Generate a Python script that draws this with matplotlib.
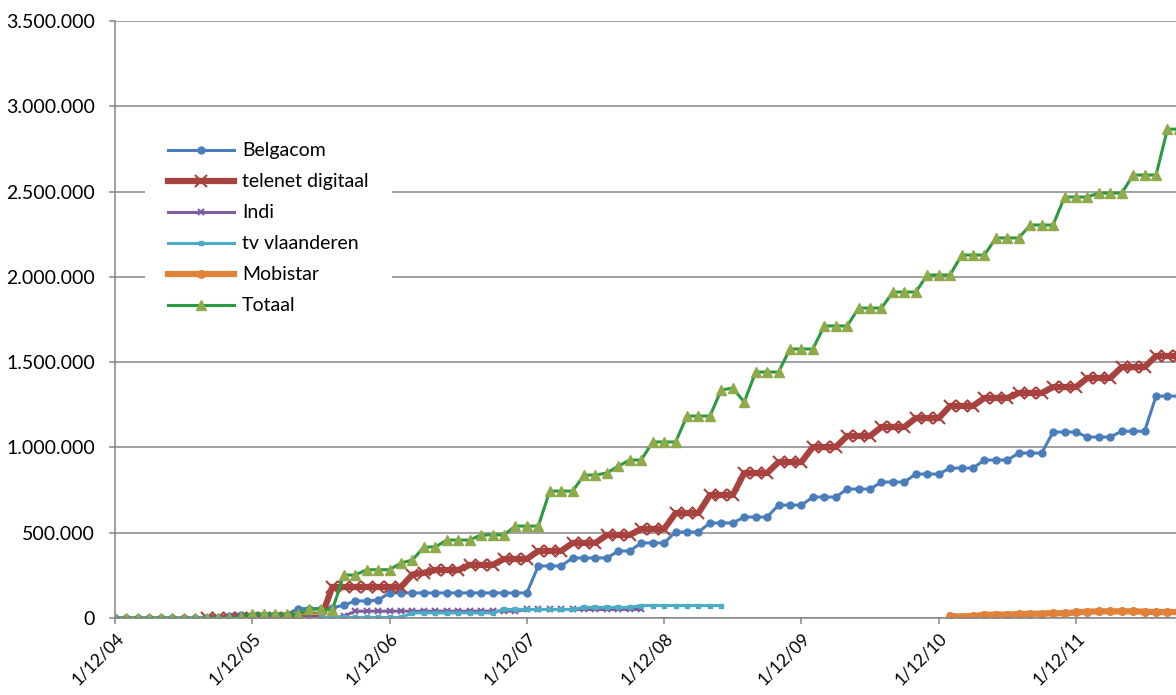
import numpy as np
import matplotlib
matplotlib.use('Agg')
from matplotlib import pyplot as plt
from matplotlib.ticker import FuncFormatter
from matplotlib.transforms import ScaledTranslation

plt.rcParams['font.family'] = ['Lato', 'DejaVu Sans']

nan = np.nan

# monthly values (x 1000), first month = dec 2004
belgacom = [0, 0, 0, 0, 0, 0, 0, 0, 0, 0,
            10, 20, 15, 15, 15, 20, 55, 55, 55, 60,
            75, 100, 100, 105, 147, 147, 147, 147, 147, 147,
            147, 147, 147, 147, 147, 147, 147, 305, 305, 305,
            352, 352, 352, 352, 393, 393, 440, 440, 440, 504,
            504, 504, 557, 557, 557, 592, 592, 592, 662, 662,
            662, 709, 709, 709, 756, 756, 756, 797, 797, 797,
            844, 844, 844, 879, 879, 879, 926, 926, 926, 967,
            967, 967, 1090, 1090, 1090, 1061, 1061, 1061, 1095, 1095,
            1095, 1301, 1301, 1301]

telenet = [nan, nan, nan, nan, nan, nan, nan, nan, 0, 0,
           0, 0, 0, 0, 0, 0, 0, 0, 0, 182,
           182, 182, 182, 182, 182, 182, 255, 265, 281, 281,
           281, 311, 311, 311, 346, 346, 346, 393, 393, 393,
           440, 440, 440, 487, 487, 487, 522, 522, 522, 615,
           615, 615, 721, 721, 721, 850, 850, 850, 914, 914,
           914, 1002, 1002, 1002, 1067, 1067, 1067, 1120, 1120, 1120,
           1172, 1172, 1172, 1243, 1243, 1243, 1290, 1290, 1290, 1319,
           1319, 1319, 1354, 1354, 1354, 1407, 1407, 1407, 1471, 1471,
           1471, 1536, 1536, 1536]

indi = [nan, nan, nan, nan, nan, nan, nan, nan, 0, 0,
        0, 0, 0, 0, 0, 0, 0, 0, 0, 0,
        10, 40, 40, 40, 40, 40, 40, 40, 40, 40,
        40, 40, 40, 40, 40, 40, 50, 50, 50, 50,
        50, 50, 50, 50, 50, 50, 50, nan, nan, nan,
        nan, nan, nan, nan, nan, nan, nan, nan, nan, nan,
        nan, nan, nan, nan, nan, nan, nan, nan, nan, nan,
        nan, nan, nan, nan, nan, nan, nan, nan, nan, nan,
        nan, nan, nan, nan, nan, nan, nan, nan, nan, nan,
        nan, nan, nan, nan]

tv_vlaanderen = [nan, nan, nan, nan, nan, nan, nan, nan, nan, nan,
                 nan, nan, nan, nan, nan, nan, nan, nan, 3, 3,
                 3, 3, 3, 3, 3, 3, 30, 30, 30, 30,
                 30, 30, 30, 30, 50, 50, 50, 50, 50, 50,
                 50, 62, 62, 62, 62, 62, 73, 73, 73, 73,
                 73, 73, 73, 73, nan, nan, nan, nan, nan, nan,
                 nan, nan, nan, nan, nan, nan, nan, nan, nan, nan,
                 nan, nan, nan, nan, nan, nan, nan, nan, nan, nan,
                 nan, nan, nan, nan, nan, nan, nan, nan, nan, nan,
                 nan, nan, nan, nan]

mobistar = [nan, nan, nan, nan, nan, nan, nan, nan, nan, nan,
            nan, nan, nan, nan, nan, nan, nan, nan, nan, nan,
            nan, nan, nan, nan, nan, nan, nan, nan, nan, nan,
            nan, nan, nan, nan, nan, nan, nan, nan, nan, nan,
            nan, nan, nan, nan, nan, nan, nan, nan, nan, nan,
            nan, nan, nan, nan, nan, nan, nan, nan, nan, nan,
            nan, nan, nan, nan, nan, nan, nan, nan, nan, nan,
            nan, nan, nan, 12, 8, 12, 18, 20, 20, 23,
            25, 25, 29, 27, 33, 37, 39, 39, 39, 39,
            37, 35, 35, 35]

totaal = [0, 0, 0, 0, 0, 0, 0, 0, 0, 0,
          0, 6, 23, 23, 23, 23, 23, 52, 52, 47,
          252, 252, 283, 283, 283, 322, 340, 416, 416, 457,
          457, 457, 487, 487, 487, 539, 539, 539, 744, 744,
          744, 838, 838, 850, 891, 926, 926, 1032, 1032, 1032,
          1184, 1184, 1184, 1337, 1348, 1266, 1442, 1442, 1442, 1577,
          1577, 1577, 1712, 1712, 1712, 1817, 1817, 1817, 1911, 1911,
          1911, 2011, 2011, 2011, 2128, 2128, 2128, 2228, 2228, 2228,
          2304, 2304, 2304, 2468, 2468, 2468, 2491, 2491, 2491, 2597,
          2597, 2597, 2866, 2866]

tick_labels = ['1/12/04', '1/12/05', '1/12/06', '1/12/07',
               '1/12/08', '1/12/09', '1/12/10', '1/12/11']

months = np.arange(len(totaal))

fig = plt.figure(figsize=(11.76, 6.95), dpi=100)
ax = fig.add_axes([115/1176, 1-618/695, 1-115/1176, (618-21)/695])

grey = '#868686'
ax.set_axisbelow(True)
ax.yaxis.grid(True, color=grey, lw=1.1)

series = [
    ('Belgacom', belgacom, dict(color='#4A7EBB', lw=2.2, marker='o', ms=5)),
    ('telenet digitaal', telenet, dict(color='#A8423F', lw=4.5, marker='x', ms=8, mew=1.5)),
    ('Indi', indi, dict(color='#7D5FA0', lw=2.2, marker='x', ms=4, mew=1.5)),
    ('tv vlaanderen', tv_vlaanderen, dict(color='#4AACC5', lw=2.2, marker='s', ms=3.5)),
    ('Mobistar', mobistar, dict(color='#E0823A', lw=4.5, marker='o', ms=5.5)),
    ('Totaal', totaal, dict(color='#2B9A40', lw=2.2, marker='^', ms=6.5, mfc='#8FAA4B', mec='#8FAA4B')),
]
for name, vals, kw in series:
    ax.plot(months, np.array(vals) * 1000, label=name, clip_on=True, **kw)

ax.set_ylim(0, 3500000)
ax.set_yticks(np.arange(0, 3500001, 500000))
ax.yaxis.set_major_formatter(FuncFormatter(lambda v, p: f"{int(v):,}".replace(',', '.')))
ax.set_xlim(0, (1176-115)/11.44)
ax.set_xticks(np.arange(0, 85, 12))
ax.set_xticklabels(tick_labels, rotation=45, ha='right', rotation_mode='anchor')

for s in ['top', 'right']:
    ax.spines[s].set_visible(False)
for s in ['left', 'bottom']:
    ax.spines[s].set_color(grey)
    ax.spines[s].set_linewidth(1.1)
ax.tick_params(axis='both', colors=grey, labelcolor='black', labelsize=14, length=4.5, width=1.1)
ax.tick_params(axis='y', pad=10)
ax.tick_params(axis='x', pad=8, labelsize=12.5)
shift = ScaledTranslation(6/100, 0, fig.dpi_scale_trans)
for lab in ax.get_xticklabels():
    lab.set_verticalalignment('center')
    lab.set_transform(lab.get_transform() + shift)

leg = ax.legend(loc='upper left', bbox_to_anchor=(145/1176, 1-119/695),
                bbox_transform=fig.transFigure, borderaxespad=0, borderpad=1.2,
                frameon=True, fancybox=False, framealpha=1, edgecolor='none',
                fontsize=14, handlelength=3.4, labelspacing=0.72, handletextpad=0.4)

fig.savefig('out.png', dpi=100)
